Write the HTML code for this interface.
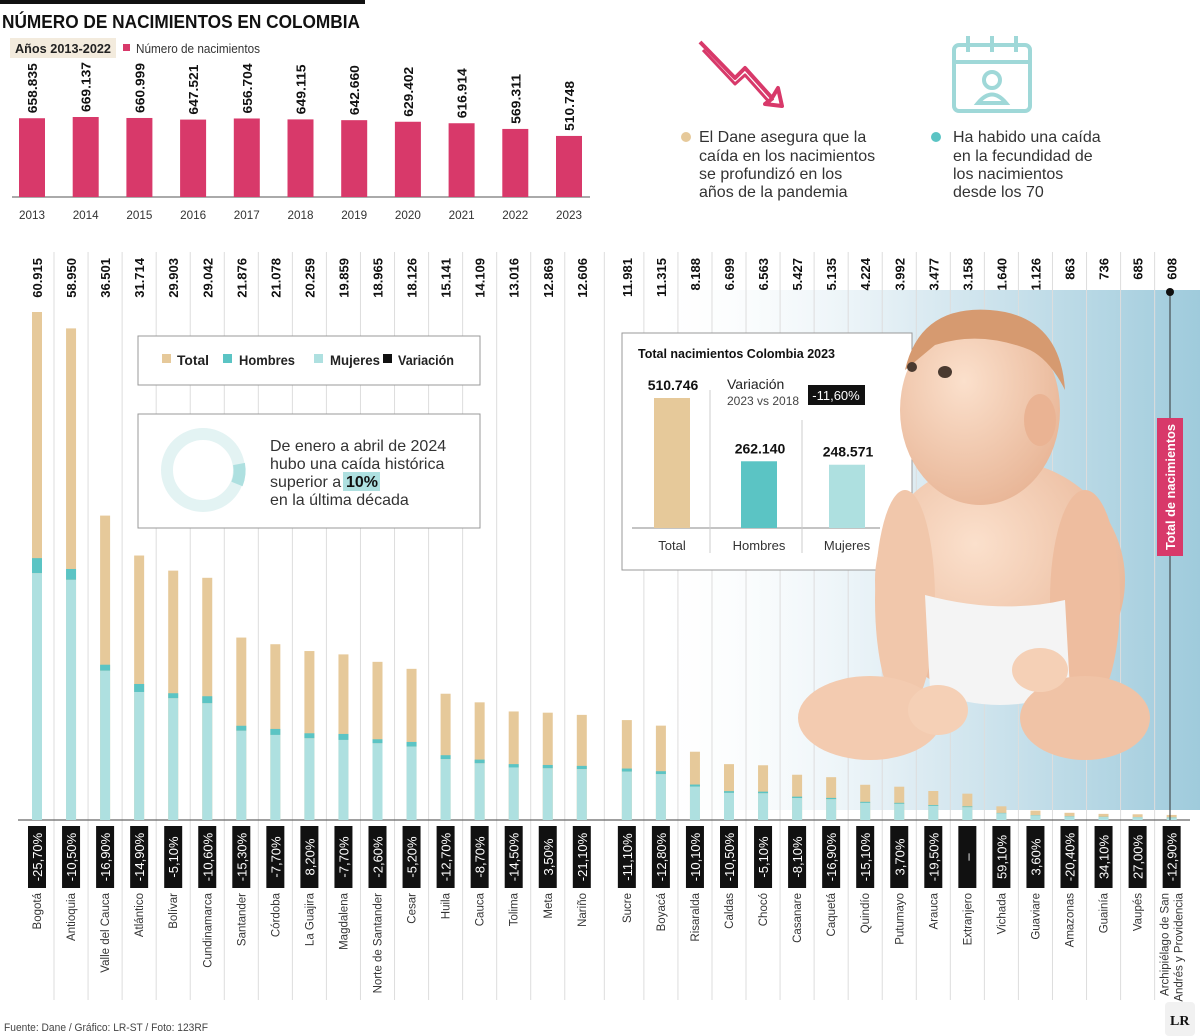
<!DOCTYPE html>
<html><head><meta charset="utf-8">
<style>
html,body{margin:0;padding:0;background:#fff;}
svg{display:block;font-family:"Liberation Sans",sans-serif;}
</style></head>
<body>
<svg id="chart" width="1200" height="1036" viewBox="0 0 1200 1036" xmlns="http://www.w3.org/2000/svg">
<defs>
<linearGradient id="bgblue" x1="0" y1="0" x2="1" y2="0">
<stop offset="0" stop-color="#ffffff" stop-opacity="0"/>
<stop offset="0.5" stop-color="#dcebf2"/>
<stop offset="1" stop-color="#9fcbdc"/>
</linearGradient>
<radialGradient id="skin" cx="0.4" cy="0.35" r="0.7">
<stop offset="0" stop-color="#fbe0cc"/><stop offset="1" stop-color="#e8b596"/>
</radialGradient>
</defs>
<rect x="0" y="0" width="1200" height="1036" fill="#fff"/>
<rect x="640" y="290" width="560" height="520" fill="url(#bgblue)"/>

<!-- Header -->
<rect x="0" y="0" width="365" height="4" fill="#111"/>
<text x="2" y="28" font-size="18" font-weight="bold" fill="#111" textLength="358" lengthAdjust="spacingAndGlyphs">NÚMERO DE NACIMIENTOS EN COLOMBIA</text>
<rect x="10" y="38" width="106" height="20" fill="#f3ebdd"/>
<text x="15" y="53" font-size="13" font-weight="bold" fill="#222" textLength="96" lengthAdjust="spacingAndGlyphs">Años 2013-2022</text>
<rect x="123" y="44" width="7" height="7" fill="#d8396a"/>
<text x="136" y="53" font-size="13" fill="#333" textLength="124" lengthAdjust="spacingAndGlyphs">Número de nacimientos</text>
<g id="topchart"></g>

<!-- Icons -->
<g fill="none" stroke="#d8396a" stroke-width="4" stroke-linejoin="round">
<path d="M700 42 L735 78 L745 68 L772 98 L778 88 L782 106 L765 104 L773 98"/>
<path d="M703 50 L735 84 L745 75 L770 103" stroke-width="3"/>
</g>
<g fill="none" stroke="#9fd8d8" stroke-width="4">
<rect x="954" y="45" width="76" height="66" rx="5"/>
<line x1="954" y1="62" x2="1030" y2="62"/>
<line x1="968" y1="36" x2="968" y2="52"/><line x1="992" y1="36" x2="992" y2="52"/><line x1="1016" y1="36" x2="1016" y2="52"/>
<circle cx="992" cy="80" r="8"/>
<path d="M978 103 Q992 86 1006 103 Z"/>
</g>
<circle cx="686" cy="137" r="5" fill="#e6c99a"/>
<text font-size="16" fill="#333">
<tspan x="699" y="142">El Dane asegura que la</tspan>
<tspan x="699" y="161">caída en los nacimientos</tspan>
<tspan x="699" y="179">se profundizó en los</tspan>
<tspan x="699" y="197">años de la pandemia</tspan></text>
<circle cx="936" cy="137" r="5" fill="#5bc4c4"/>
<text font-size="16" fill="#333">
<tspan x="953" y="142">Ha habido una caída</tspan>
<tspan x="953" y="161">en la fecundidad de</tspan>
<tspan x="953" y="179">los nacimientos</tspan>
<tspan x="953" y="197">desde los 70</tspan></text>

<g id="grid"></g>
<g id="bars"></g>

<!-- Legend -->
<rect x="138" y="336" width="342" height="49" fill="#fff" stroke="#999"/>
<g font-size="14" font-weight="bold" fill="#222">
<rect x="162" y="354" width="9" height="9" fill="#e6c99a"/><text x="177" y="365" textLength="32" lengthAdjust="spacingAndGlyphs">Total</text>
<rect x="223" y="354" width="9" height="9" fill="#5bc4c4"/><text x="239" y="365" textLength="56" lengthAdjust="spacingAndGlyphs">Hombres</text>
<rect x="314" y="354" width="9" height="9" fill="#aee0e0"/><text x="330" y="365" textLength="50" lengthAdjust="spacingAndGlyphs">Mujeres</text>
<rect x="383" y="354" width="9" height="9" fill="#111"/><text x="398" y="365" textLength="56" lengthAdjust="spacingAndGlyphs">Variación</text>
</g>
<rect x="138" y="414" width="342" height="114" fill="#fff" stroke="#999"/>
<circle cx="203" cy="470" r="36" fill="none" stroke="#e3f3f3" stroke-width="12"/>
<path d="M239 464 A36 36 0 0 1 237 484" fill="none" stroke="#aee0e0" stroke-width="12"/>
<text font-size="16" fill="#333">
<tspan x="270" y="451">De enero a abril de 2024</tspan>
<tspan x="270" y="469">hubo una caída histórica</tspan>
<tspan x="270" y="487">superior a </tspan><tspan x="270" y="505">en la última década</tspan></text>
<rect x="343" y="472" width="37" height="19" fill="#aee0e0"/>
<text x="346" y="487" font-size="16" font-weight="bold" fill="#111">10%</text>

<!-- Inset -->
<rect x="622" y="333" width="290" height="237" fill="#fff" stroke="#999"/>
<g id="inset"></g>

<!-- Baby illustration -->
<g>
<ellipse cx="1000" cy="580" rx="125" ry="120" fill="url(#skin)"/>
<ellipse cx="905" cy="600" rx="30" ry="110" fill="#f1c7ab"/>
<ellipse cx="1085" cy="600" rx="35" ry="110" fill="#eebd9f"/>
<path d="M925 595 Q1000 615 1065 600 L1070 690 Q1000 720 930 690 Z" fill="#f4f4f4"/>
<ellipse cx="870" cy="718" rx="72" ry="42" fill="#f3cbb0"/>
<ellipse cx="1085" cy="718" rx="65" ry="42" fill="#f0c3a6"/>
<ellipse cx="938" cy="710" rx="30" ry="25" fill="#f5d0b6"/>
<ellipse cx="1040" cy="670" rx="28" ry="22" fill="#f5d0b6"/>
<ellipse cx="980" cy="410" rx="80" ry="95" fill="url(#skin)"/>
<path d="M905 370 Q920 305 990 310 Q1060 315 1065 390 Q1050 360 1030 350 Q980 330 935 345 Z" fill="#d69a70"/>
<ellipse cx="1040" cy="420" rx="16" ry="26" fill="#eab393"/>
<ellipse cx="945" cy="372" rx="7" ry="6" fill="#4a3a30"/>
<ellipse cx="912" cy="367" rx="5" ry="5" fill="#4a3a30"/>
</g>

<!-- Total de nacimientos axis label -->
<line x1="1170" y1="292" x2="1170" y2="820" stroke="#333" stroke-width="1"/>
<circle cx="1170" cy="292" r="4" fill="#111"/>
<rect x="1157" y="418" width="26" height="138" fill="#d8396a"/>
<text transform="translate(1175,550) rotate(-90)" font-size="13" font-weight="bold" fill="#fff" textLength="126" lengthAdjust="spacingAndGlyphs">Total de nacimientos</text>

<text x="4" y="1031" font-size="11" fill="#444" textLength="204" lengthAdjust="spacingAndGlyphs">Fuente: Dane / Gráfico: LR-ST / Foto: 123RF</text>
<g>
<rect x="1165" y="1002" width="30" height="34" rx="4" fill="#f1f1f1"/>
<text x="1170" y="1025" font-size="14" font-weight="bold" fill="#111" font-family="Liberation Serif, serif">LR</text>
</g>
</svg>
<script>
const NS="http://www.w3.org/2000/svg";
// ---- top chart data
const years=["2013","2014","2015","2016","2017","2018","2019","2020","2021","2022","2023"];
const annualBirths=[658835,669137,660999,647521,656704,649115,642660,629402,616914,569311,510748];
const annualLabels=["658.835","669.137","660.999","647.521","656.704","649.115","642.660","629.402","616.914","569.311","510.748"];
// ---- department chart data
const departments=["Bogotá","Antioquia","Valle del Cauca","Atlántico","Bolívar","Cundinamarca","Santander","Córdoba","La Guajira","Magdalena","Norte de Santander","Cesar","Huila","Cauca","Tolima","Meta","Nariño","Sucre","Boyacá","Risaralda","Caldas","Chocó","Casanare","Caquetá","Quindío","Putumayo","Arauca","Extranjero","Vichada","Guaviare","Amazonas","Guainía","Vaupés","Archipiélago de San|Andrés y Providencia"];
const totals=[60915,58950,36501,31714,29903,29042,21876,21078,20259,19859,18965,18126,15141,14109,13016,12869,12606,11981,11315,8188,6699,6563,5427,5135,4224,3992,3477,3158,1640,1126,863,736,685,608];
const totalLabels=["60.915","58.950","36.501","31.714","29.903","29.042","21.876","21.078","20.259","19.859","18.965","18.126","15.141","14.109","13.016","12.869","12.606","11.981","11.315","8.188","6.699","6.563","5.427","5.135","4.224","3.992","3.477","3.158","1.640","1.126","863","736","685","608"];
const hombres=[1800,1300,720,960,600,840,600,720,600,720,480,560,470,440,400,400,390,370,350,250,210,200,170,160,130,120,110,100,50,35,27,23,21,19];
const mujeres=[29600,28800,17900,15350,14600,14000,10700,10200,9800,9600,9200,8800,7300,6800,6300,6200,6100,5800,5500,4000,3250,3200,2630,2490,2050,1940,1690,1530,800,550,420,360,330,300];
const variation=["-25,70%","-10,50%","-16,90%","-14,90%","-5,10%","-10,60%","-15,30%","-7,70%","8,20%","-7,70%","-2,60%","-5,20%","-12,70%","-8,70%","-14,50%","3,50%","-21,10%","-11,10%","-12,80%","-10,10%","-10,50%","-5,10%","-8,10%","-16,90%","-15,10%","3,70%","-19,50%","–","59,10%","3,60%","-20,40%","34,10%","27,00%","-12,90%"];
// ---- inset data
const insetCats=["Total","Hombres","Mujeres"];
const insetVals=[510746,262140,248571];
const insetLabels=["510.746","262.140","248.571"];

function el(tag,attrs,parent,txt){const e=document.createElementNS(NS,tag);for(const k in attrs)e.setAttribute(k,attrs[k]);if(txt!==undefined)e.textContent=txt;parent.appendChild(e);return e;}

// top chart
const topG=document.getElementById('topchart');
const tBase=197, tScale=80/669137;
const tx=i=>32+i*53.7;
el('line',{x1:12,y1:tBase,x2:590,y2:tBase,stroke:'#555','stroke-width':1},topG);
years.forEach((y,i)=>{
  const h=annualBirths[i]*tScale;
  const r=el('rect',{x:tx(i)-13,y:tBase-h,width:26,height:h,fill:'#d8396a'},topG);
  
  
  const t=el('text',{transform:`translate(${tx(i)+5},${tBase-h-5}) rotate(-90)`,'font-size':13,'font-weight':'bold',fill:'#111',textLength:50,lengthAdjust:'spacingAndGlyphs'},topG,annualLabels[i]);
  
  
  const l=el('text',{x:tx(i),y:219,'font-size':12,fill:'#333','text-anchor':'middle',textLength:26,lengthAdjust:'spacingAndGlyphs'},topG,y);
  
  
});

// department chart
const g=document.getElementById('bars'), grid=document.getElementById('grid');
const base=820, scale=508/60915;
const xc=i=>37+i*34.05+(i>=17?11:0);
el('line',{x1:18,y1:base,x2:1190,y2:base,stroke:'#666','stroke-width':1.2},g);
departments.forEach((d,i)=>{
  const x=xc(i);
  if(i>0){el('line',{x1:(xc(i)+xc(i-1))/2,y1:252,x2:(xc(i)+xc(i-1))/2,y2:1000,stroke:'#ddd','stroke-width':1},grid);}
  const hT=totals[i]*scale, hM=mujeres[i]*scale, hH=hombres[i]*scale;
  const bt=el('rect',{x:x-5,y:base-hT,width:10,height:hT,fill:'#e6c99a'},g);
  
  
  const bh=el('rect',{x:x-5,y:base-hM-hH,width:10,height:hH,fill:'#5bc4c4'},g);
  
  
  const bm=el('rect',{x:x-5,y:base-hM,width:10,height:hM,fill:'#aee0e0'},g);
  
  
  const vt=el('text',{transform:`translate(${x+5},258) rotate(-90)`,'font-size':13,'font-weight':'bold',fill:'#111','text-anchor':'end'},g,totalLabels[i]);
  
  
  const vb=el('rect',{x:x-9,y:826,width:18,height:62,fill:'#111'},g);
  
  
  const vv=el('text',{transform:`translate(${x+5},857) rotate(-90)`,'font-size':13,fill:'#fff','text-anchor':'middle'},g,variation[i]);
  
  
  const parts=d.split('|');
  parts.forEach((p,k)=>{
    const lt=el('text',{transform:`translate(${x+4+(k-(parts.length-1)/2)*14},893) rotate(-90)`,'font-size':11.5,fill:'#333','text-anchor':'end'},g,p);
    
    
  });
});

// inset
const ins=document.getElementById('inset');
el('text',{x:638,y:358,'font-size':13,'font-weight':'bold',fill:'#111',textLength:197,lengthAdjust:'spacingAndGlyphs'},ins,'Total nacimientos Colombia 2023');
const iBase=528, iScale=130/510746, ix=[672,759,847], icol=['#e6c99a','#5bc4c4','#aee0e0'];
el('line',{x1:632,y1:iBase,x2:880,y2:iBase,stroke:'#888'},ins);
el('line',{x1:710,y1:390,x2:710,y2:553,stroke:'#ccc'},ins);
el('line',{x1:802,y1:420,x2:802,y2:553,stroke:'#ccc'},ins);
insetCats.forEach((c,i)=>{
  const h=insetVals[i]*iScale;
  const r=el('rect',{x:ix[i]-18,y:iBase-h,width:36,height:h,fill:icol[i]},ins);
  
  
  const v=el('text',{x:ix[i]+1,y:iBase-h-8,'font-size':14,'font-weight':'bold',fill:'#111','text-anchor':'middle'},ins,insetLabels[i]);
  
  
  const l=el('text',{x:ix[i],y:550,'font-size':13,fill:'#333','text-anchor':'middle'},ins,c);
  
  
});
el('text',{x:727,y:389,'font-size':14,fill:'#222'},ins,'Variación');
el('text',{x:727,y:405,'font-size':12,fill:'#444'},ins,'2023 vs 2018');
el('rect',{x:808,y:385,width:57,height:20,fill:'#111'},ins);
el('text',{x:836,y:400,'font-size':13,fill:'#fff','text-anchor':'middle'},ins,'-11,60%');
</script>
</body></html>
